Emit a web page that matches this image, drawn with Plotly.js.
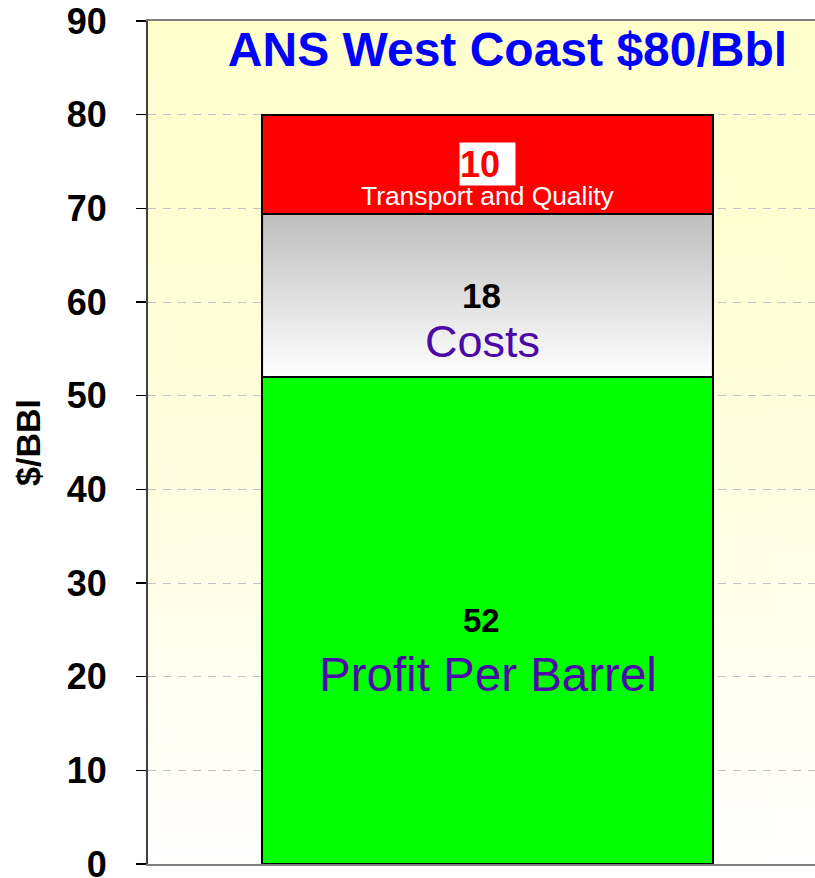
<!DOCTYPE html>
<html>
<head>
<meta charset="utf-8">
<script src="https://cdn.plot.ly/plotly-3.0.1.min.js"></script>
<style>html,body{margin:0;padding:0;background:#fff;}</style>
</head>
<body>
<div id="chart" style="width:815px;height:878px;"></div>
<script>
// Data
var category = ["ANS West Coast $80/Bbl"];
var segmentNames = ["Profit Per Barrel", "Costs", "Transport and Quality"];
var segmentValues = [52, 17.4, 10.6];
var segmentLabels = ["52", "18", "10"];
var yTickValues = [0, 10, 20, 30, 40, 50, 60, 70, 80, 90];

// Styles
var FONT = "Liberation Sans, Arial, sans-serif";
var barColors = ["#00FF00", "#BEBEBE", "#FF0000"];
var barWidth = 0.664;
var purple = "#4B0AA8";

// background gradient image
function gradientURI(stops) {
  var c = document.createElement("canvas");
  c.width = 8; c.height = 512;
  var g = c.getContext("2d");
  var gr = g.createLinearGradient(0, 0, 0, 512);
  stops.forEach(function (s) { gr.addColorStop(s[0], s[1]); });
  g.fillStyle = gr;
  g.fillRect(0, 0, 8, 512);
  return c.toDataURL("image/png");
}

var traces = [];
var bases = [];
var cum = 0;
for (var i = 0; i < segmentValues.length; i++) {
  bases.push(cum);
  traces.push({
    type: "bar",
    x: [0],
    y: [segmentValues[i]],
    name: segmentNames[i],
    width: barWidth,
    marker: {color: barColors[i], line: {color: "#000000", width: 2}},
    hoverinfo: "skip",
    showlegend: false
  });
  cum += segmentValues[i];
}
// gradient overlay for the costs segment
var gb = bases[1], gt = bases[1] + segmentValues[1];
traces.push({
  type: "scatter",
  mode: "lines",
  x: [-barWidth / 2, barWidth / 2, barWidth / 2, -barWidth / 2, -barWidth / 2],
  y: [gb, gb, gt, gt, gb],
  fill: "toself",
  fillgradient: {type: "vertical", colorscale: [[0, "#FFFFFF"], [1, "#BEBEBE"]]},
  line: {color: "#000000", width: 2},
  hoverinfo: "skip",
  showlegend: false
});

var nameShift = [-54, -46, -32];
var nameXShift = [0, -5, 0];
var nameSize = [47.5, 45, 26.4];
var nameColor = [purple, purple, "#FFFFFF"];
var valueSize = [33, 35, 36];
var valueXShift = [-6, -6, 0];
var annotations = [];
for (var j = 0; j < segmentValues.length; j++) {
  var mid = bases[j] + segmentValues[j] / 2;
  var a = {
    x: 0, y: mid, xref: "x", yref: "y", xshift: valueXShift[j],
    text: segmentLabels[j], showarrow: false,
    font: {family: FONT, size: valueSize[j], weight: "bold", color: j === 2 ? "#FF0000" : "#000000"}
  };
  if (j === 2) {
    a.bgcolor = "#FFFFFF"; a.width = 55; a.height = 42; a.align = "left"; a.borderpad = 0;
  }
  annotations.push(a);
  annotations.push({
    x: 0, y: mid, xref: "x", yref: "y", yshift: nameShift[j], xshift: nameXShift[j],
    text: segmentNames[j], showarrow: false,
    font: {family: FONT, size: nameSize[j], color: nameColor[j]}
  });
}

var layout = {
  width: 815, height: 878,
  margin: {l: 148, r: 0, t: 21, b: 14},
  paper_bgcolor: "#FFFFFF",
  plot_bgcolor: "rgba(0,0,0,0)",
  barmode: "stack",
  showlegend: false,
  title: {
    text: category[0],
    x: 507.5 / 815, xref: "container", xanchor: "center",
    y: 1 - 49 / 878, yref: "container", yanchor: "middle",
    font: {family: FONT, size: 48, weight: "bold", color: "#0000FF"}
  },
  xaxis: {
    range: [-0.5, 0.4823],
    showticklabels: false, ticks: "", showgrid: false, zeroline: false,
    showline: true, linecolor: "#808080", linewidth: 2, mirror: true,
    fixedrange: true
  },
  yaxis: {
    range: [0, 90],
    tickvals: yTickValues,
    ticktext: yTickValues.map(String),
    ticks: "outside", ticklen: 10, tickwidth: 1.5, tickcolor: "#000000",
    ticklabelstandoff: 22,
    ticklabeloverflow: "allow",
    tickfont: {family: FONT, size: 36, weight: "bold", color: "#000000"},
    showline: true, linecolor: "#404040", linewidth: 2,
    showgrid: true, gridcolor: "#C0C0C8", gridwidth: 1, griddash: "8px,7px",
    zeroline: false,
    title: {text: "$/BBl", standoff: 16, font: {family: FONT, size: 34, weight: "bold", color: "#000000"}},
    fixedrange: true
  },
  images: [{
    source: gradientURI([[0, "#FFFFCC"], [0.45, "#FFFDDA"], [1, "#FFFFFF"]]),
    xref: "paper", yref: "paper", x: 0, y: 1, sizex: 1, sizey: 1,
    xanchor: "left", yanchor: "top", sizing: "stretch", layer: "below"
  }],
  annotations: annotations
};

Plotly.newPlot("chart", traces, layout, {displayModeBar: false, staticPlot: true});
</script>
</body>
</html>
